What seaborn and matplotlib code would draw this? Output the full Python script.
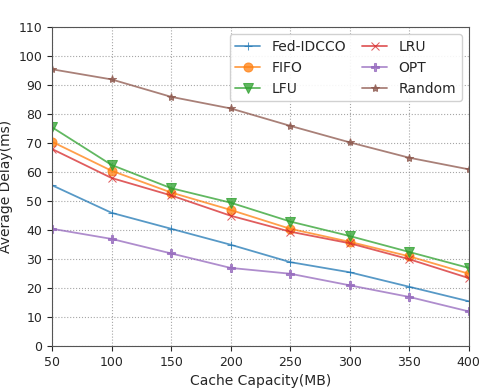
import pandas as pd
import seaborn as sns
import matplotlib.pyplot as plt

# du lieu doc tu hinh
cache = [50, 100, 150, 200, 250, 300, 350, 400]
fed_idcco = [55.5, 46, 40.5, 35, 29, 25.5, 20.5, 15.5]
fifo = [70.5, 60.5, 53, 47, 40.5, 36, 31, 25]
lfu = [75.5, 62.5, 54.5, 49.5, 43, 38, 32.5, 27]
lru = [68, 58, 52, 45, 39.5, 35.5, 30, 23.5]
opt = [40.5, 37, 32, 27, 25, 21, 17, 12]
random_delay = [95.5, 92, 86, 82, 76, 70.3, 65, 61]

series = {'Fed-IDCCO': fed_idcco, 'FIFO': fifo, 'LFU': lfu,
          'LRU': lru, 'OPT': opt, 'Random': random_delay}
df = pd.DataFrame([(k, c, v) for k, vals in series.items() for c, v in zip(cache, vals)],
                  columns=['method', 'cache', 'delay'])

sns.set_style('ticks')
plt.rcParams['font.family'] = ['DejaVu Sans']

fig, ax = plt.subplots(figsize=(4.96, 3.89), dpi=100)
markers = {'Fed-IDCCO': '+', 'FIFO': 'o', 'LFU': 'v', 'LRU': 'x', 'OPT': 'P', 'Random': '*'}
sizes = {'Fed-IDCCO': 6, 'FIFO': 6.5, 'LFU': 6.5, 'LRU': 6, 'OPT': 6, 'Random': 6}
palette = sns.color_palette('tab10', 6)
for i, name in enumerate(series):
    sub = df[df['method'] == name]
    sns.lineplot(data=sub, x='cache', y='delay', ax=ax, color=palette[i], marker=markers[name],
                 markersize=sizes[name], markeredgecolor=palette[i], linewidth=1.3,
                 alpha=0.75, label=name)

ax.set_xlim(50, 400)
ax.set_ylim(0, 110)
ax.set_xticks(cache)
ax.set_yticks(range(0, 111, 10))
ax.grid(True, linestyle=':', color='gray', alpha=0.7)
ax.set_xlabel('Cache Capacity(MB)', fontsize=10)
ax.set_ylabel('Average Delay(ms)', fontsize=10)
ax.tick_params(labelsize=9)
for s in ax.spines.values():
    s.set_color('#555555')
ax.legend(ncol=2, loc='upper right', fontsize=10, framealpha=0.9,
          handlelength=1.8, columnspacing=1.2, borderaxespad=0.5)
plt.subplots_adjust(left=0.105, right=0.945, top=0.93, bottom=0.11)
plt.savefig('out.png', dpi=100)
